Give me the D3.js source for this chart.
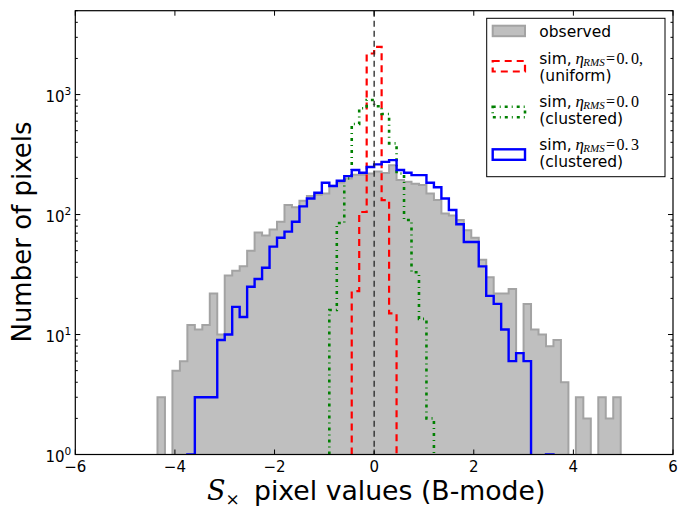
<!DOCTYPE html>
<html>
<head>
<meta charset="utf-8">
<script src="https://cdn.jsdelivr.net/npm/d3@7"></script>
<style>
  html, body { margin: 0; padding: 0; background: #fff; }
  svg { display: block; }
</style>
</head>
<body>
<svg id="chart" width="683" height="508"></svg>
<script>
// Histogram binning shared by every series: 80 bins over [-6, 6]
const binWidth = 0.15;

// Observed pixel counts (first bin starts at observedStart)
const observedStart = -4.35;
const observedCounts = [3, 0, 5, 6, 12, 11, 12, 22, 10, 31, 34, 37, 50, 71, 67, 75, 87, 120, 115,
  130, 143, 146, 150, 174, 185, 200, 215, 215, 220, 228, 222, 258, 194, 188, 181, 176, 150, 132,
  102, 98, 90, 74, 64, 42, 30, 22, 22, 24, 7, 18, 11, 10, 8, 9, 4, 0, 3, 2, 0, 3, 2, 3];

// Simulation, eta_RMS = 0.0, uniform sources
const uniformStart = -0.45;
const uniformCounts = [23, 105, 2200, 2500, 132, 15];

// Simulation, eta_RMS = 0.0, clustered sources
const clusteredStart = -0.9;
const clusteredCounts = [16, 85, 200, 568, 768, 900, 800, 688, 392, 220, 90, 33, 13.5, 2];

// Simulation, eta_RMS = 0.3, clustered sources
const noisyStart = -3.75;
const noisyCounts = [1, 3, 3, 3, 9, 10, 17, 14, 25, 29, 36, 54, 64, 72, 87, 117, 136, 152, 184,
  173, 191, 209, 235, 223, 249, 262, 275, 284, 235, 223, 213, 213, 184, 169, 136, 109, 83, 59, 59,
  37, 21, 18, 11, 6, 7, 6, 0, 0, 1];

const xDomain = [-6, 6];
const yDomain = [1, 5000];
const xTickValues = [-6, -4, -2, 0, 2, 4, 6];
const yTickExponents = [0, 1, 2, 3];

const svg = d3.select("#chart");
const plot = { left: 75.3, right: 673, top: 10.7, bottom: 454.5 };

const x = d3.scaleLinear().domain(xDomain).range([plot.left, plot.right]);
const y = d3.scaleLog().domain(yDomain).range([plot.bottom, plot.top]);

svg.append("defs").append("clipPath").attr("id", "plotClip")
  .append("rect")
  .attr("x", plot.left).attr("y", plot.top)
  .attr("width", plot.right - plot.left).attr("height", plot.bottom - plot.top);

// y position of a count; empty bins drop below the axis and get clipped
const floorY = plot.bottom + 60;
const yPos = v => v > 0 ? y(v) : floorY;

// Outline of a step histogram: up from the floor, across each bin, back down
function stepPoints(start, counts) {
  const pts = [[x(start), floorY]];
  counts.forEach((v, i) => {
    const a = start + i * binWidth, b = a + binWidth;
    pts.push([x(a), yPos(v)]);
    pts.push([x(b), yPos(v)]);
  });
  pts.push([x(start + counts.length * binWidth), floorY]);
  return pts;
}

const line = d3.line();
const g = svg.append("g").attr("clip-path", "url(#plotClip)");

// observed: filled step histogram
g.append("path")
  .attr("d", line(stepPoints(observedStart, observedCounts)) + "Z")
  .attr("fill", "#bfbfbf")
  .attr("stroke", "#a3a3a3")
  .attr("stroke-width", 2);

// uniform simulation: red dashed
g.append("path")
  .attr("d", line(stepPoints(uniformStart, uniformCounts)))
  .attr("fill", "none")
  .attr("stroke", "#ff0000")
  .attr("stroke-width", 2.2)
  .attr("stroke-dasharray", "7,5");

// clustered simulation: green dash-dot
g.append("path")
  .attr("d", line(stepPoints(clusteredStart, clusteredCounts)))
  .attr("fill", "none")
  .attr("stroke", "#008000")
  .attr("stroke-width", 2.6)
  .attr("stroke-dasharray", "3,4,1,4");

// clustered simulation with noise: solid blue
g.append("path")
  .attr("d", line(stepPoints(noisyStart, noisyCounts)))
  .attr("fill", "none")
  .attr("stroke", "#0000ff")
  .attr("stroke-width", 2.4);

// zero reference line
g.append("line")
  .attr("x1", x(0)).attr("x2", x(0))
  .attr("y1", plot.top).attr("y2", plot.bottom)
  .attr("stroke", "#222")
  .attr("stroke-width", 1.3)
  .attr("stroke-dasharray", "6,4");

// frame
svg.append("rect")
  .attr("x", plot.left).attr("y", plot.top)
  .attr("width", plot.right - plot.left).attr("height", plot.bottom - plot.top)
  .attr("fill", "none").attr("stroke", "#000").attr("stroke-width", 1.2);

// ticks pointing inward on all four sides
const tickG = svg.append("g").attr("stroke", "#000").attr("stroke-width", 1);
xTickValues.forEach(t => {
  tickG.append("line").attr("x1", x(t)).attr("x2", x(t)).attr("y1", plot.bottom).attr("y2", plot.bottom - 5);
  tickG.append("line").attr("x1", x(t)).attr("x2", x(t)).attr("y1", plot.top).attr("y2", plot.top + 5);
});
const yMajor = yTickExponents.map(e => Math.pow(10, e));
const yMinor = [];
yTickExponents.forEach(e => {
  for (let m = 2; m <= 9; m++) {
    const v = m * Math.pow(10, e);
    if (v <= yDomain[1]) yMinor.push(v);
  }
});
yMajor.forEach(v => {
  tickG.append("line").attr("x1", plot.left).attr("x2", plot.left + 5).attr("y1", y(v)).attr("y2", y(v));
  tickG.append("line").attr("x1", plot.right).attr("x2", plot.right - 5).attr("y1", y(v)).attr("y2", y(v));
});
yMinor.forEach(v => {
  tickG.append("line").attr("x1", plot.left).attr("x2", plot.left + 2.5).attr("y1", y(v)).attr("y2", y(v));
  tickG.append("line").attr("x1", plot.right).attr("x2", plot.right - 2.5).attr("y1", y(v)).attr("y2", y(v));
});

// tick labels
const sans = "DejaVu Sans, sans-serif";
const serif = "DejaVu Serif, serif";
const mathFont = "Liberation Serif, serif";
xTickValues.forEach(t => {
  svg.append("text")
    .attr("x", x(t)).attr("y", plot.bottom + 17)
    .attr("text-anchor", "middle")
    .attr("font-family", sans).attr("font-size", 15)
    .text(t < 0 ? "\u2212" + Math.abs(t) : String(t));
});
yTickExponents.forEach(e => {
  const tx = svg.append("text")
    .attr("x", plot.left - 4).attr("y", y(Math.pow(10, e)) + 7)
    .attr("text-anchor", "end")
    .attr("font-family", sans).attr("font-size", 15);
  tx.append("tspan").text("10");
  tx.append("tspan").attr("font-size", 10.5).attr("dy", -7).text(String(e));
});

// axis labels
svg.append("text")
  .attr("transform", "translate(31,232) rotate(-90)")
  .attr("text-anchor", "middle")
  .attr("font-family", sans).attr("font-size", 26)
  .text("Number of pixels");

const xl = svg.append("text")
  .attr("x", 207).attr("y", 500)
  .attr("font-family", sans).attr("font-size", 26.7);
xl.append("tspan").attr("font-family", serif).attr("font-style", "italic").attr("font-size", 27).text("S");
xl.append("tspan").attr("font-family", serif).attr("font-size", 17).attr("dy", 5).text("\u00d7");
xl.append("tspan").attr("x", 254).attr("dy", -5).text("pixel values (B-mode)");

// legend
const leg = svg.append("g");
leg.append("rect")
  .attr("x", 486.7).attr("y", 18.3).attr("width", 178.3).attr("height", 158.4)
  .attr("fill", "#fff").attr("stroke", "#000").attr("stroke-width", 1);

const legendEntries = [
  { kind: "fill", color: "#bfbfbf", edge: "#a3a3a3", box: 25.7, label: "observed", base: 36.7 },
  { kind: "step", color: "#ff0000", dash: "7,5", width: 2.2, box: 61, eta: "0.0", tail: ",", sub: "(uniform)", base: 64.3 },
  { kind: "step", color: "#008000", dash: "3,4,1,4", width: 2.6, box: 106.7, eta: "0.0", tail: "", sub: "(clustered)", base: 107 },
  { kind: "step", color: "#0000ff", dash: null, width: 2.4, box: 149.3, eta: "0.3", tail: "", sub: "(clustered)", base: 150 }
];

legendEntries.forEach(d => {
  const r = leg.append("rect")
    .attr("x", 492.7).attr("y", d.box).attr("width", 32.3).attr("height", 10.5);
  if (d.kind === "fill") {
    r.attr("fill", d.color).attr("stroke", d.edge).attr("stroke-width", 2);
    leg.append("text").attr("x", 539.3).attr("y", d.base)
      .attr("font-family", sans).attr("font-size", 15.5).text(d.label);
  } else {
    r.attr("fill", "none").attr("stroke", d.color).attr("stroke-width", d.width);
    if (d.dash) r.attr("stroke-dasharray", d.dash);
    const base = d.base;
    leg.append("text").attr("x", 539.3).attr("y", base)
      .attr("font-family", sans).attr("font-size", 15.5).text("sim,");
    leg.append("text").attr("x", 575.5).attr("y", base)
      .attr("font-family", mathFont).attr("font-style", "italic").attr("font-size", 17).text("\u03b7");
    leg.append("text").attr("x", 583.3).attr("y", base + 1.5)
      .attr("font-family", mathFont).attr("font-style", "italic").attr("font-size", 11).text("RMS");
    leg.append("text").attr("x", 606).attr("y", base)
      .attr("font-family", mathFont).attr("font-size", 16).text("=");
    const parts = d.eta.split(".");
    leg.append("text").attr("x", 616.5).attr("y", base)
      .attr("font-family", mathFont).attr("font-size", 16).text(parts[0] + ".");
    leg.append("text").attr("x", 631).attr("y", base)
      .attr("font-family", mathFont).attr("font-size", 16).text(parts[1] + d.tail);
    leg.append("text").attr("x", 539.3).attr("y", base + 17)
      .attr("font-family", sans).attr("font-size", 15.5).text(d.sub);
  }
});
</script>
</body>
</html>
